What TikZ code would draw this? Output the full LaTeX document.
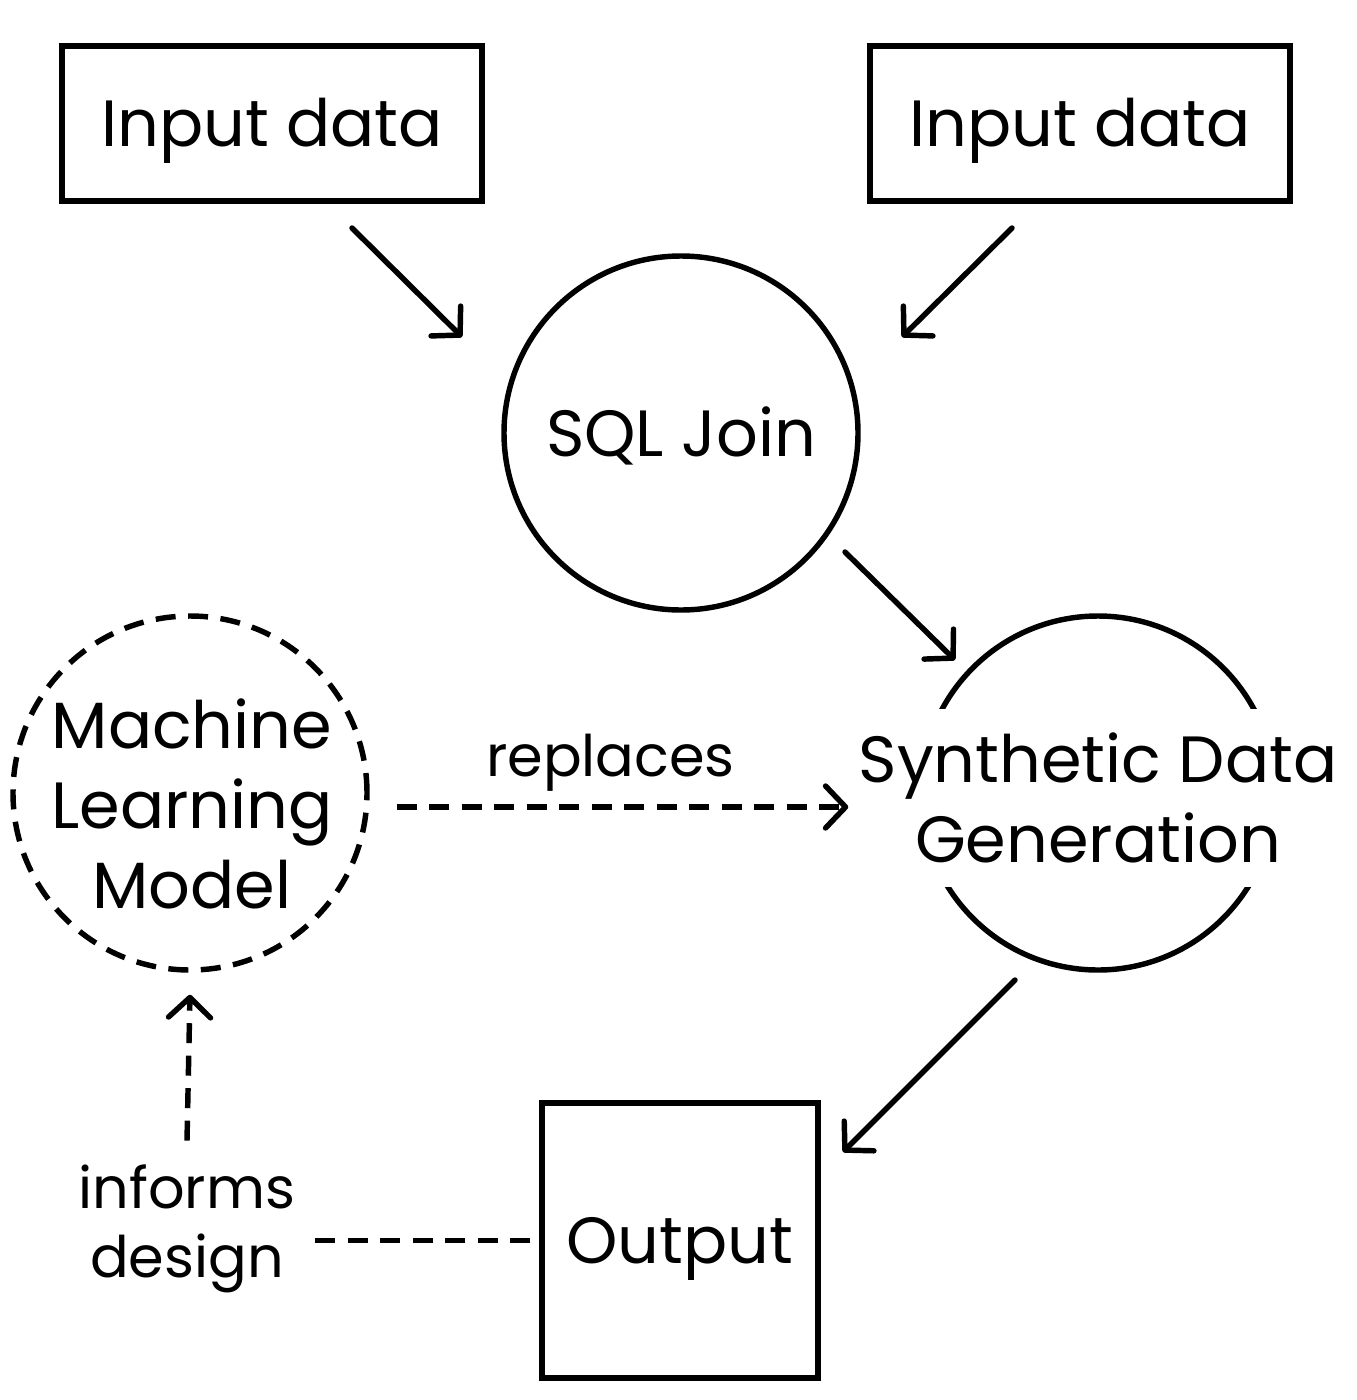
\documentclass[tikz,border=0pt]{standalone}
\usepackage{fontspec}
\setmainfont{Poppins}
\usetikzlibrary{arrows.meta}
\begin{document}
\begin{tikzpicture}[
  line width=1.55pt,
  tip/.style={-{Straight Barb[length=2mm,width=4.2mm,round]}},
  dashline/.style={dash pattern=on 2mm off 1.25mm},
  boxnode/.style={draw,line width=1.6pt,inner sep=0pt},
  roundnode/.style={draw,circle,line width=1.55pt,minimum size=3.54cm,inner sep=0pt},
  txt/.style={font=\fontsize{18.6}{22.8}\selectfont,align=center},
  oneline/.style={text height=0.46cm,text depth=0pt},
  lbl/.style={font=\fontsize{16.3}{19.5}\selectfont,align=center}]
 \useasboundingbox (0,0) rectangle (13.56,-14);
 % boxes and circles
 \node[boxnode,txt,oneline,minimum width=4.2cm,minimum height=1.55cm] (in1) at (2.72,-1.235) {Input data};
 \node[boxnode,txt,oneline,minimum width=4.2cm,minimum height=1.55cm] (in2) at (10.80,-1.235) {Input data};
 \node[roundnode,txt,oneline] (sql) at (6.81,-4.33) {SQL Join};
 \node[roundnode] (syn) at (10.98,-7.93) {};
 \node[txt,fill=white,inner xsep=0pt,minimum height=1.78cm] (syntxt) at (10.98,-7.98) {Synthetic Data\\Generation};
 \node[roundnode,dashline] (ml) at (1.90,-7.93) {};
 \node[txt] (mltxt) at (1.92,-8.04) {Machine\\Learning\\Model};
 \node[boxnode,txt,oneline,minimum width=2.76cm,minimum height=2.75cm] (out) at (6.80,-12.405) {Output};
 \node[lbl] (inf) at (1.87,-12.29) {informs\\design};
 % arrow ends
 \coordinate (a1s) at (3.52,-2.28);  \coordinate (a1e) at (4.62,-3.37);
 \coordinate (a2s) at (10.12,-2.28); \coordinate (a2e) at (9.02,-3.37);
 \coordinate (a3s) at (8.45,-5.52);  \coordinate (a3e) at (9.55,-6.60);
 \coordinate (a4s) at (10.15,-9.80); \coordinate (a4e) at (8.43,-11.52);
 \draw[tip,line cap=round] (a1s) -- (a1e);
 \draw[tip,line cap=round] (a2s) -- (a2e);
 \draw[tip,line cap=round] (a3s) -- (a3e);
 \draw[tip,line cap=round] (a4s) -- (a4e);
 % dashed links
 \draw[tip,dashline] ([xshift=0.27cm]ml.east |- 0,-8.07) -- node[lbl,above=0.01cm,xshift=-0.12cm] (rep) {replaces} ([xshift=-0.7cm]syn.west |- 0,-8.07);
 \draw[tip,dashline] ([yshift=0.1cm]inf.north) -- ([yshift=-0.22cm]ml.south);
 \draw[dashline] ([xshift=-0.09cm]out.west) -- ([xshift=-0.05cm]inf.east |- out.west);
\end{tikzpicture}
\end{document}
